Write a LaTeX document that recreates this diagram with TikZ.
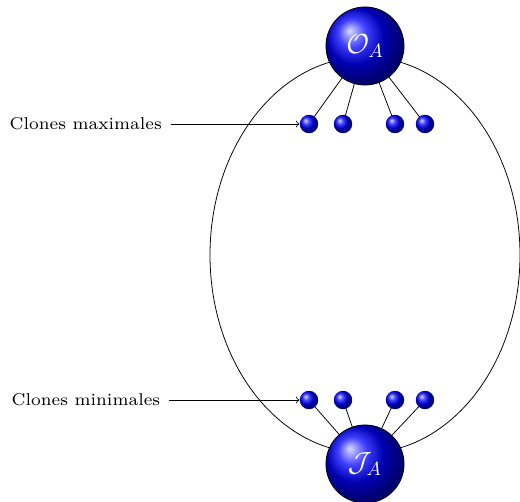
\documentclass[tikz,border=0pt]{standalone}
\usepackage{amsfonts}
\usetikzlibrary{backgrounds}

\begin{document}
\begin{tikzpicture}[x=0.52pt, y=0.52pt,
    bigball/.style={circle, ball color=blue, draw=black, inner sep=0pt,
      minimum size=40.6pt, text=white, font=\Large},
    smallball/.style={circle, ball color=blue, inner sep=0pt, minimum size=9.6pt},
    clonelabel/.style={anchor=west, font=\scriptsize, scale=1.27}]
  \useasboundingbox (0,0) rectangle (520,501);
  % the lattice
  \draw (365,246) ellipse (155 and 198);
  \node[bigball] (top) at (365,455) {$\mathcal{O}_A$};
  \node[bigball] (bot) at (365,37) {$\mathcal{J}_A$};
  % maximal and minimal clones
  \node[smallball] (max1) at (309,377) {};
  \node[smallball] (max2) at (343,377) {};
  \node[smallball] (max3) at (395,377) {};
  \node[smallball] (max4) at (425,377) {};
  \node[smallball] (min1) at (309,101) {};
  \node[smallball] (min2) at (343,101) {};
  \node[smallball] (min3) at (395,101) {};
  \node[smallball] (min4) at (425,101) {};
  \begin{scope}[on background layer]
    \foreach \i in {1,...,4} {
      \draw (top.center) -- (max\i.center);
      \draw (bot.center) -- (min\i.center);
    }
  \end{scope}
  % labels
  \node[clonelabel] (lmax) at (1,377) {Clones maximales};
  \node[clonelabel] (lmin) at (3,101) {Clones minimales};
  \draw[->] (lmax) -- (max1);
  \draw[->] (lmin) -- (min1);
\end{tikzpicture}
\end{document}
